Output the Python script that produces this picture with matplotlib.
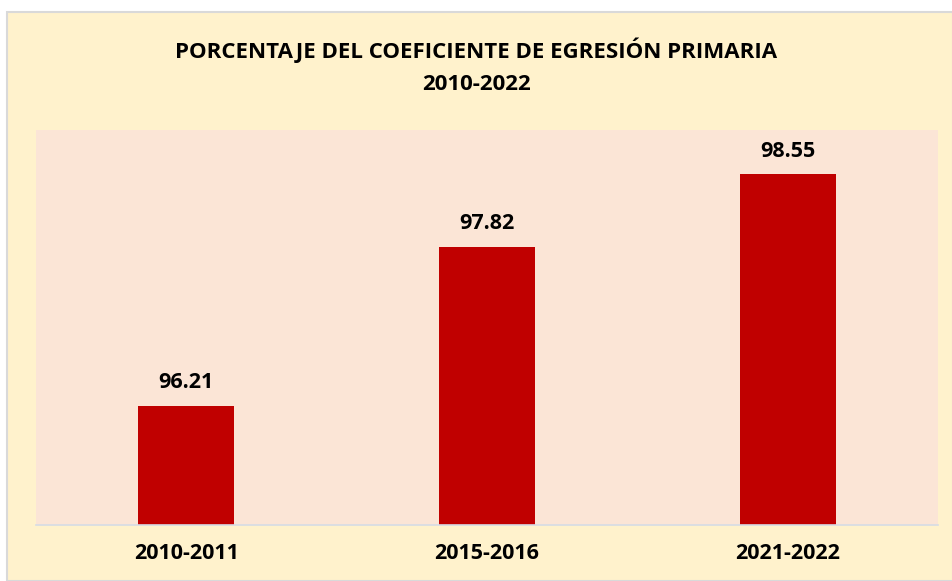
import matplotlib
matplotlib.use("Agg")
import matplotlib.pyplot as plt
from matplotlib.patches import Rectangle

categories = ["2010-2011", "2015-2016", "2021-2022"]
values = [96.21, 97.82, 98.55]
title_lines = ["PORCENTAJE DEL COEFICIENTE DE EGRESIÓN PRIMARIA", "2010-2022"]

W, H = 953, 581
fig = plt.figure(figsize=(W / 100, H / 100), dpi=100)
fig.patch.set_facecolor("white")
plt.rcParams['font.family'] = ['Open Sans', 'DejaVu Sans']

# chart area background
bg = Rectangle((7 / W, 0), (W - 7) / W, (H - 12) / H, transform=fig.transFigure,
               facecolor="#FFF2CC", edgecolor="#D9D9D9", linewidth=1.5, zorder=-10)
fig.patches.append(bg)

ax = fig.add_axes([36 / W, (H - 525) / H, (938 - 36) / W, (525 - 130) / H])
ax.set_zorder(5)
ax.set_facecolor("#FBE5D6")
x = range(len(categories))
bars = ax.bar(x, values, width=0.32, color="#C00000", zorder=2)
ax.set_xlim(-0.5, len(categories) - 0.5)
ax.set_ylim(95, 99)
ax.set_yticks([])
ax.set_xticks(list(x))
ax.set_xticklabels(categories, fontsize=15.5, fontweight="bold")
ax.tick_params(axis="x", length=0, pad=13)
for s in ["top", "left", "right"]:
    ax.spines[s].set_visible(False)
ax.spines["bottom"].set_color("#D6DCE5")
ax.spines["bottom"].set_linewidth(1.2)

for xi, v in zip(x, values):
    ax.annotate(f"{v:.2f}", (xi, v), xytext=(0, 9), textcoords="offset points",
                ha="center", va="bottom", fontsize=15.5, fontweight="bold")

fig.text(0.5, 1 - 50 / H, title_lines[0], ha="center", va="center", fontsize=16, fontweight="bold")
fig.text(0.5, 1 - 85 / H, title_lines[1], ha="center", va="center", fontsize=16, fontweight="bold")

fig.savefig("out.png", dpi=100)
